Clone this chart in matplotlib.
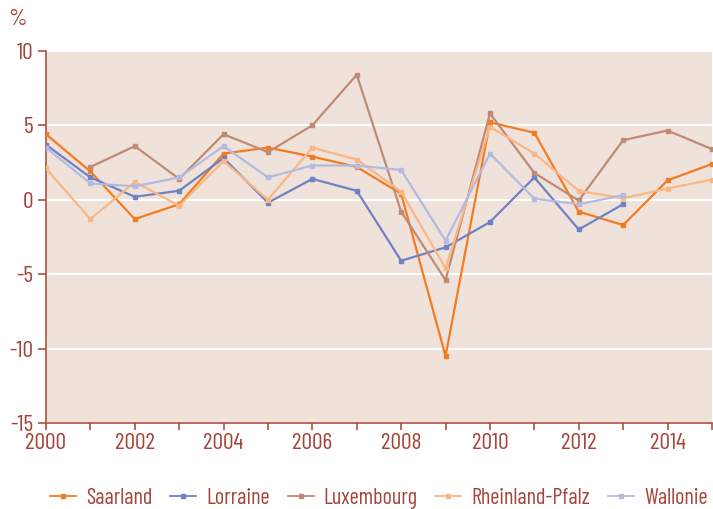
import matplotlib
matplotlib.use('Agg')
import matplotlib.pyplot as plt
import numpy as np

plt.rcParams['font.family'] = ['Barlow Condensed', 'DejaVu Sans']
plt.rcParams['axes.unicode_minus'] = False

# --data
years = list(range(2000, 2016))
saarland = [4.4, 1.9, -1.3, -0.3, 3.1, 3.5, 2.9, 2.2, 0.4, -10.5, 5.2, 4.5, -0.8, -1.7, 1.3, 2.4]
lorraine = [3.7, 1.5, 0.2, 0.6, 2.8, -0.2, 1.4, 0.6, -4.1, -3.2, -1.5, 1.5, -2.0, -0.3]
luxembourg = [2.2, 3.6, 1.4, 4.4, 3.2, 5.0, 8.4, -0.8, -5.4, 5.8, 1.8, -0.05, 4.0, 4.65, 3.4]
rheinland = [2.1, -1.3, 1.2, -0.4, 2.6, 0.0, 3.5, 2.7, 0.55, -4.6, 4.9, 3.1, 0.6, 0.1, 0.75, 1.35]
wallonie = [3.5, 1.1, 0.9, 1.5, 3.6, 1.5, 2.3, 2.3, 2.0, -2.75, 3.1, 0.07, -0.3, 0.3]

series = [
    ('Saarland', years[:len(saarland)], saarland, '#F47B20'),
    ('Lorraine', years[:len(lorraine)], lorraine, '#6F83C4'),
    ('Luxembourg', years[1:1 + len(luxembourg)], luxembourg, '#C08B75'),
    ('Rheinland-Pfalz', years[:len(rheinland)], rheinland, '#F9B785'),
    ('Wallonie', years[:len(wallonie)], wallonie, '#B3BBE0'),
]

txtColor = '#A5443A'
axColor = '#B0503F'
fontSize = 17

fig = plt.figure(figsize=(7.13, 5.09), dpi=100)
ax = fig.add_axes([0.0645, 0.169, 0.934, 0.731])
ax.set_facecolor('#EFE2DB')

for name, xs, ys, col in series:
    ax.plot(xs, ys, color=col, lw=1.6, marker='s', ms=3.5, label=name, zorder=3)

ax.set_xlim(2000, 2015)
ax.set_ylim(-15, 10)
ax.set_yticks([-15, -10, -5, 0, 5, 10])
ax.set_xticks(years, minor=True)
ax.set_xticks(list(range(2000, 2016, 2)))
ax.grid(axis='y', color='white', lw=1.5, zorder=1)
ax.set_axisbelow(True)

for s in ['top', 'right']:
    ax.spines[s].set_visible(False)
for s in ['left', 'bottom']:
    ax.spines[s].set_color(axColor)
    ax.spines[s].set_linewidth(1.2)

ax.tick_params(axis='both', which='both', colors=axColor, labelcolor=txtColor,
               labelsize=fontSize, width=1.2)
ax.tick_params(axis='y', length=6, pad=3)
ax.tick_params(axis='x', which='both', length=5, pad=2)

fig.text(0.011, 0.962, '%', color=txtColor, fontsize=fontSize, va='center')

leg = ax.legend(loc='center', bbox_to_anchor=(0.5, -0.202), ncol=5, frameon=False,
                fontsize=16, labelcolor=txtColor, handlelength=1.17,
                handletextpad=0.45, columnspacing=0.8, borderaxespad=0)
for h in leg.legend_handles:
    h.set_linewidth(1.3)
    h.set_markersize(3)

plt.savefig('out.png', dpi=100)
